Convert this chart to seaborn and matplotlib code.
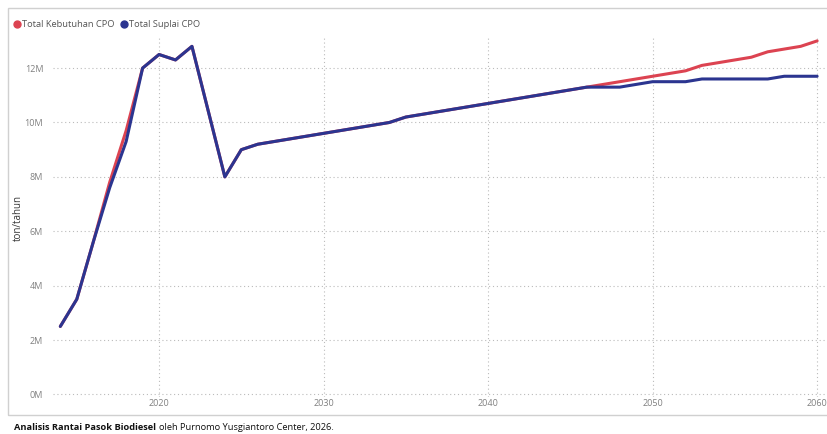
import matplotlib
matplotlib.use("Agg")
import matplotlib.pyplot as plt
import seaborn as sns
import pandas as pd
from matplotlib.lines import Line2D
from matplotlib.patches import Rectangle
from matplotlib.ticker import FuncFormatter

years = list(range(2014, 2061))
kebutuhan = [2.5, 3.5, 5.6, 7.8, 9.7, 12.0, 12.5, 12.3, 12.8, 10.4, 8.0, 9.0, 9.2,
             9.3, 9.4, 9.5, 9.6, 9.7, 9.8, 9.9, 10.0, 10.2, 10.3, 10.4, 10.5, 10.6,
             10.7, 10.8, 10.9, 11.0, 11.1, 11.2, 11.3, 11.4, 11.5, 11.6, 11.7, 11.8,
             11.9, 12.1, 12.2, 12.3, 12.4, 12.6, 12.7, 12.8, 13.0]
suplai = [2.5, 3.5, 5.6, 7.6, 9.3, 12.0, 12.5, 12.3, 12.8, 10.4, 8.0, 9.0, 9.2,
          9.3, 9.4, 9.5, 9.6, 9.7, 9.8, 9.9, 10.0, 10.2, 10.3, 10.4, 10.5, 10.6,
          10.7, 10.8, 10.9, 11.0, 11.1, 11.2, 11.3, 11.3, 11.3, 11.4, 11.5, 11.5,
          11.5, 11.6, 11.6, 11.6, 11.6, 11.6, 11.7, 11.7, 11.7]
series_names = ["Total Kebutuhan CPO", "Total Suplai CPO"]
colors = ["#DC4351", "#2B3590"]
x_ticks = [2020, 2030, 2040, 2050, 2060]
y_ticks = [0, 2, 4, 6, 8, 10, 12]

df = pd.DataFrame({
    "year": years * 2,
    "value": [v * 1e6 for v in kebutuhan] + [v * 1e6 for v in suplai],
    "series": [series_names[0]] * len(years) + [series_names[1]] * len(years),
})

sns.set_theme(style="white")
plt.rcParams["font.family"] = ["Open Sans", "DejaVu Sans"]

fig = plt.figure(figsize=(8.27, 4.34), dpi=100)
ax = fig.add_axes([0.064, 0.085, 0.936, 0.827])

sns.lineplot(data=df, x="year", y="value", hue="series", palette=colors,
             hue_order=series_names, linewidth=2.2, ax=ax, legend=False)

ax.set_xlim(2013.55, 2060.6)
ax.set_ylim(-0.1e6, 13.1e6)
ax.set_xticks(x_ticks)
ax.set_yticks([t * 1e6 for t in y_ticks])
ax.yaxis.set_major_formatter(FuncFormatter(lambda v, p: f"{int(round(v / 1e6))}M"))
ax.tick_params(axis="both", labelsize=6.5, colors="#808080", length=0)
ax.tick_params(axis="x", pad=1.5)
ax.tick_params(axis="y", pad=7)
ax.grid(True, linestyle=(0, (1, 2.5)), color="#BBBBBB", linewidth=0.8)
for s in ax.spines.values():
    s.set_visible(False)
ax.set_xlabel("")
ax.set_ylabel("ton/tahun", fontsize=7, color="#333333")
ax.yaxis.set_label_coords(-(53 - 24) / (0.936 * 827), 0.5)

# outer frame
fig.patches.append(Rectangle((8 / 827, 1 - 415 / 434), 1, (415 - 8) / 434,
                             transform=fig.transFigure, fill=False,
                             edgecolor="#D0D0D0", linewidth=1.0))

handles = [Line2D([0], [0], marker="o", color="none", markerfacecolor=c,
                  markeredgecolor=c, markersize=5) for c in colors]
fig.legend(handles, series_names, loc="upper left", bbox_to_anchor=(0.011, 0.963),
           frameon=False, fontsize=6.7, labelcolor="#555555", ncol=2,
           handletextpad=0.0, columnspacing=0.5, handlelength=1.0, borderaxespad=0)

t1 = fig.text(0.017, 0.004, "Analisis Rantai Pasok Biodiesel", fontsize=6.7, fontweight="bold",
              color="#111111", ha="left", va="bottom")
fig.canvas.draw()
bb = t1.get_window_extent(renderer=fig.canvas.get_renderer())
x2 = (bb.x1 + 3) / fig.bbox.width
fig.text(x2, 0.004, "oleh Purnomo Yusgiantoro Center, 2026.", fontsize=6.7,
         color="#111111", ha="left", va="bottom")

fig.savefig("out.png", dpi=100)
